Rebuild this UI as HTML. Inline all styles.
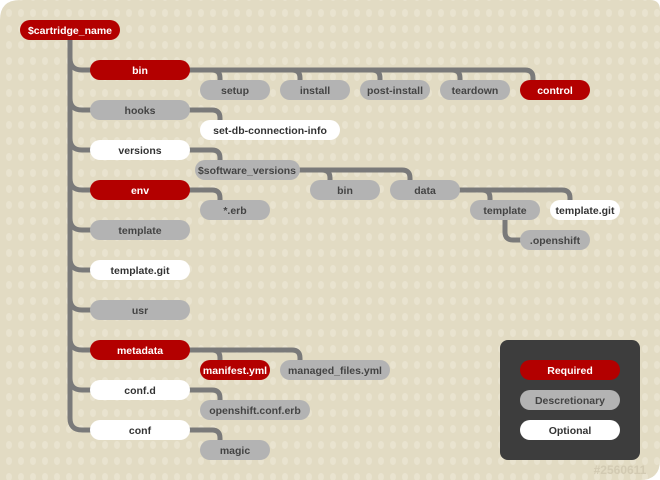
<!DOCTYPE html>
<html><head><meta charset="utf-8"><style>
html,body{margin:0;padding:0;background:#fff;}
svg{display:block;}
text{font-family:"Liberation Sans",sans-serif;font-weight:bold;font-size:10.5px;text-anchor:middle;}
</style></head><body>
<svg width="660" height="480" viewBox="0 0 660 480" xmlns="http://www.w3.org/2000/svg">
<defs>
<pattern id="dots" x="3" y="5" width="12" height="16" patternUnits="userSpaceOnUse">
<ellipse cx="6" cy="8" rx="3" ry="4" fill="#e9e3cf"/>
</pattern>
<clipPath id="card"><path d="M20 0 H650 Q660 0 660 10 V460 Q660 480 640 480 H0 V20 Q0 0 20 0 Z"/></clipPath>
</defs>
<g clip-path="url(#card)">
<rect width="660" height="480" fill="#e2dbc3"/>
<rect width="660" height="480" fill="url(#dots)"/>
</g>
<g fill="none" stroke="#7a7a7a" stroke-width="5">
<path d="M70 38 V418 Q70 430 82 430 H92"/>
<path d="M70 58 Q70 70 82 70 H92"/>
<path d="M70 98 Q70 110 82 110 H92"/>
<path d="M70 138 Q70 150 82 150 H92"/>
<path d="M70 178 Q70 190 82 190 H92"/>
<path d="M70 218 Q70 230 82 230 H92"/>
<path d="M70 258 Q70 270 82 270 H92"/>
<path d="M70 298 Q70 310 82 310 H92"/>
<path d="M70 338 Q70 350 82 350 H92"/>
<path d="M70 378 Q70 390 82 390 H92"/>
<!-- bin -->
<path d="M188 70 H525 Q533 70 533 78 V84"/>
<path d="M212 70 Q220 70 220 78 V84"/>
<path d="M292 70 Q300 70 300 78 V84"/>
<path d="M372 70 Q380 70 380 78 V84"/>
<path d="M452 70 Q460 70 460 78 V84"/>
<!-- hooks -->
<path d="M188 110 H212 Q220 110 220 118 V124"/>
<path d="M188 150 H212 Q220 150 220 158 V164"/>
<path d="M188 190 H212 Q220 190 220 198 V204"/>
<!-- software versions -->
<path d="M298 170 H402 Q410 170 410 178 V184"/>
<path d="M322 170 Q330 170 330 178 V184"/>
<!-- data -->
<path d="M458 190 H562 Q570 190 570 198 V204"/>
<path d="M482 190 Q490 190 490 198 V204"/>
<path d="M505 218 V232 Q505 240 513 240 H522"/>
<!-- metadata -->
<path d="M188 350 H292 Q300 350 300 358 V364"/>
<path d="M212 350 Q220 350 220 358 V364"/>
<path d="M188 390 H212 Q220 390 220 398 V404"/>
<path d="M188 430 H212 Q220 430 220 438 V444"/>
</g>
<g>
<!-- nodes -->
<rect x="20" y="20" width="100" height="20" rx="10" fill="#b30000"/><text x="70" y="34" fill="#fff">$cartridge_name</text>
<rect x="90" y="60" width="100" height="20" rx="10" fill="#b30000"/><text x="140" y="74" fill="#fff">bin</text>
<rect x="90" y="100" width="100" height="20" rx="10" fill="#b3b3b3"/><text x="140" y="114" fill="#444">hooks</text>
<rect x="90" y="140" width="100" height="20" rx="10" fill="#fff"/><text x="140" y="154" fill="#333">versions</text>
<rect x="90" y="180" width="100" height="20" rx="10" fill="#b30000"/><text x="140" y="194" fill="#fff">env</text>
<rect x="90" y="220" width="100" height="20" rx="10" fill="#b3b3b3"/><text x="140" y="234" fill="#444">template</text>
<rect x="90" y="260" width="100" height="20" rx="10" fill="#fff"/><text x="140" y="274" fill="#333">template.git</text>
<rect x="90" y="300" width="100" height="20" rx="10" fill="#b3b3b3"/><text x="140" y="314" fill="#444">usr</text>
<rect x="90" y="340" width="100" height="20" rx="10" fill="#b30000"/><text x="140" y="354" fill="#fff">metadata</text>
<rect x="90" y="380" width="100" height="20" rx="10" fill="#fff"/><text x="140" y="394" fill="#333">conf.d</text>
<rect x="90" y="420" width="100" height="20" rx="10" fill="#fff"/><text x="140" y="434" fill="#333">conf</text>

<rect x="200" y="80" width="70" height="20" rx="10" fill="#b3b3b3"/><text x="235" y="94" fill="#444">setup</text>
<rect x="280" y="80" width="70" height="20" rx="10" fill="#b3b3b3"/><text x="315" y="94" fill="#444">install</text>
<rect x="360" y="80" width="70" height="20" rx="10" fill="#b3b3b3"/><text x="395" y="94" fill="#444">post-install</text>
<rect x="440" y="80" width="70" height="20" rx="10" fill="#b3b3b3"/><text x="475" y="94" fill="#444">teardown</text>
<rect x="520" y="80" width="70" height="20" rx="10" fill="#b30000"/><text x="555" y="94" fill="#fff">control</text>

<rect x="200" y="120" width="140" height="20" rx="10" fill="#fff"/><text x="270" y="134" fill="#333">set-db-connection-info</text>
<rect x="195" y="160" width="105" height="20" rx="10" fill="#b3b3b3"/><text x="247" y="174" fill="#444">$software_versions</text>
<rect x="310" y="180" width="70" height="20" rx="10" fill="#b3b3b3"/><text x="345" y="194" fill="#444">bin</text>
<rect x="390" y="180" width="70" height="20" rx="10" fill="#b3b3b3"/><text x="425" y="194" fill="#444">data</text>
<rect x="200" y="200" width="70" height="20" rx="10" fill="#b3b3b3"/><text x="235" y="214" fill="#444">*.erb</text>
<rect x="470" y="200" width="70" height="20" rx="10" fill="#b3b3b3"/><text x="505" y="214" fill="#444">template</text>
<rect x="550" y="200" width="70" height="20" rx="10" fill="#fff"/><text x="585" y="214" fill="#333">template.git</text>
<rect x="520" y="230" width="70" height="20" rx="10" fill="#b3b3b3"/><text x="555" y="244" fill="#444">.openshift</text>

<rect x="200" y="360" width="70" height="20" rx="10" fill="#b30000"/><text x="235" y="374" fill="#fff">manifest.yml</text>
<rect x="280" y="360" width="110" height="20" rx="10" fill="#b3b3b3"/><text x="335" y="374" fill="#444">managed_files.yml</text>
<rect x="200" y="400" width="110" height="20" rx="10" fill="#b3b3b3"/><text x="255" y="414" fill="#444">openshift.conf.erb</text>
<rect x="200" y="440" width="70" height="20" rx="10" fill="#b3b3b3"/><text x="235" y="454" fill="#444">magic</text>

<!-- legend -->
<rect x="500" y="340" width="140" height="120" rx="8" fill="#3d3d3d"/>
<rect x="520" y="360" width="100" height="20" rx="10" fill="#b30000"/><text x="570" y="374" fill="#fff">Required</text>
<rect x="520" y="390" width="100" height="20" rx="10" fill="#b3b3b3"/><text x="570" y="404" fill="#444">Descretionary</text>
<rect x="520" y="420" width="100" height="20" rx="10" fill="#fff"/><text x="570" y="434" fill="#333">Optional</text>
<text x="620" y="474" fill="#d2cab2" style="font-size:12px">#2560611</text>
</g>
</svg>
</body></html>
